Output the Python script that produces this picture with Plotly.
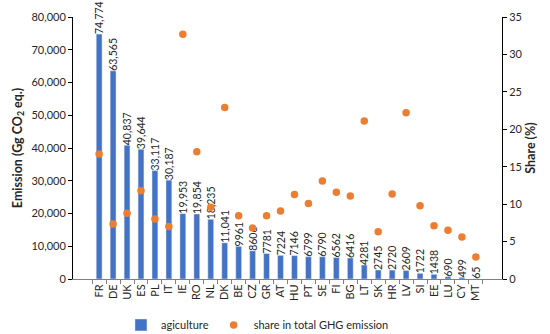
import plotly.graph_objects as go

countries = ["FR","DE","UK","ES","PL","IT","IE","RO","NL","DK","BE","CZ","GR","AT",
             "HU","PT","SE","FI","BG","LT","SK","HR","LV","SI","EE","LU","CY","MT"]
emission = [74774,63565,40837,39644,33117,30187,19953,19854,18235,11041,9961,8606,7781,7224,
            7146,6799,6790,6562,6416,4281,2745,2720,2609,1722,1438,690,499,65]
share = [16.7,7.35,8.8,11.8,8.0,7.0,32.7,17.0,9.6,22.9,8.46,6.8,8.46,9.1,
         11.3,10.1,13.1,11.6,11.1,21.1,6.3,11.35,22.2,9.8,7.1,6.5,5.6,2.95]
labels = [f"{v:,}" if v >= 10000 else str(v) for v in emission]

font = "Lato"
fig = go.Figure()
fig.add_trace(go.Bar(
    x=countries, y=emission, name="agiculture",
    marker_color="#4472C4", width=0.42,
    text=labels, textposition="outside", textangle=-90,
    textfont=dict(size=10.5, color="#262626", family=font),
    constraintext="none", cliponaxis=False,
))
fig.add_trace(go.Scatter(
    x=countries, y=share, name="share in total GHG emission", mode="markers",
    marker=dict(color="#ED7D31", size=7.5), yaxis="y2", cliponaxis=False,
))
fig.update_layout(
    width=550, height=334,
    margin=dict(l=73, r=48, t=17, b=55, autoexpand=False),
    plot_bgcolor="white", paper_bgcolor="white",
    font=dict(family=font, size=11, color="#262626"),
    bargap=0.58,
    xaxis=dict(tickangle=-90, showline=True, linecolor="#808080", linewidth=1,
               ticks="outside", tickson="boundaries", ticklen=4, tickcolor="#808080",
               tickfont=dict(size=11), automargin=False),
    yaxis=dict(range=[0, 80000], dtick=10000, tickformat=",", showgrid=False,
               showline=True, linecolor="black", linewidth=1, ticks="outside",
               ticklen=4, tickcolor="black", zeroline=False, automargin=False,
               title=dict(text="<b>Emission (Gg CO<sub>2</sub> eq.)</b>", font=dict(size=12.5), standoff=6)),
    yaxis2=dict(range=[0, 35], dtick=5, overlaying="y", side="right", showgrid=False,
                showline=True, linecolor="black", linewidth=1, ticks="outside",
                ticklen=4, tickcolor="black", zeroline=False, automargin=False,
                title=dict(text="<b>Share (%)</b>", font=dict(size=12.5), standoff=0)),
    legend=dict(orientation="h", x=0.43, xanchor="center", y=-0.12, yanchor="top",
                itemwidth=30, font=dict(size=11)),
    showlegend=True,
)
fig.write_html("out.html", config={"displayModeBar": False},
               post_script="document.body.style.margin='0';document.body.style.overflow='hidden';")
